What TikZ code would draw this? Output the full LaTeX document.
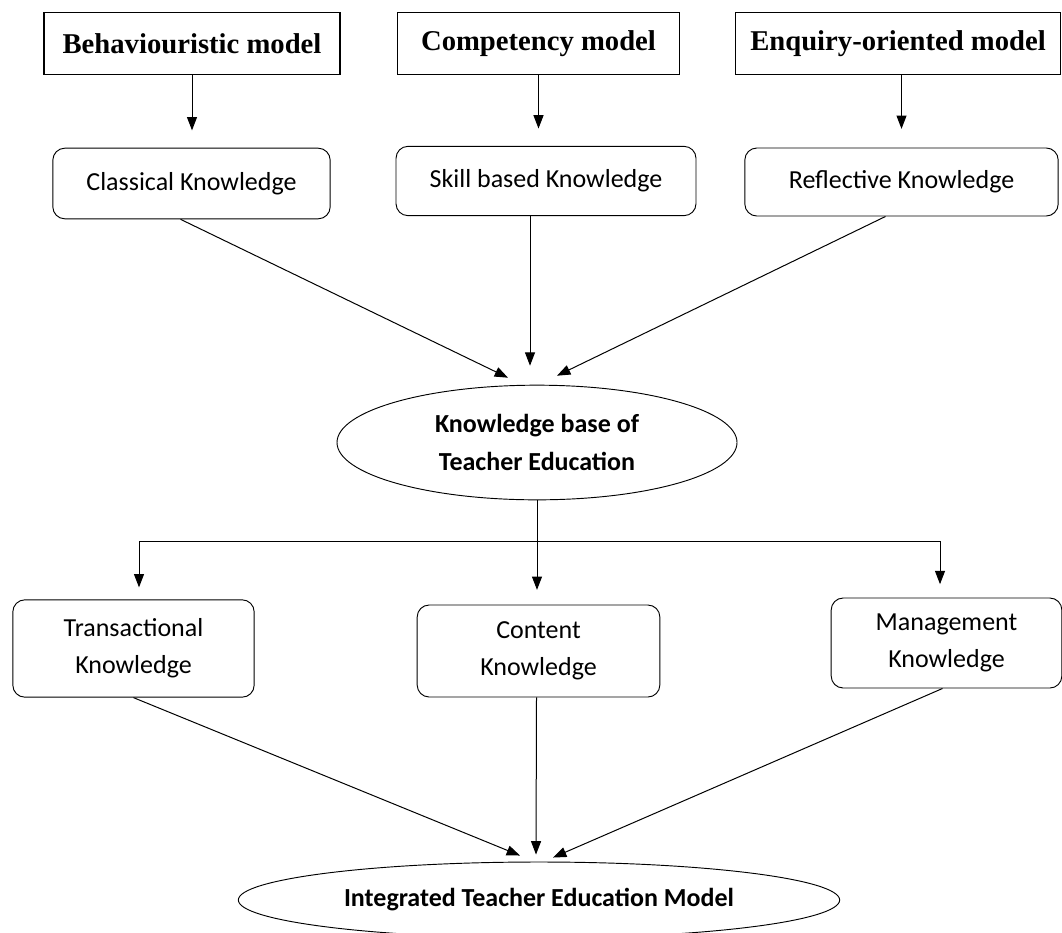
\documentclass[tikz,border=0pt]{standalone}
\usepackage{fontspec}
\setmainfont{Carlito}
\newfontfamily\modelfont{Liberation Serif}
\usetikzlibrary{arrows.meta, positioning, calc, shapes.geometric}

\begin{document}
\begin{tikzpicture}[x=0.75pt, y=-0.75pt,
  modelbox/.style={draw, line width=0.9pt, inner sep=0pt, font=\modelfont\bfseries\fontsize{21.5}{24}\selectfont},
  knowbox/.style={draw, rounded corners=9pt, line width=0.7pt, align=center, inner sep=0pt, font=\fontsize{19.5}{28}\selectfont},
  baseellipse/.style={draw, ellipse, line width=0.7pt, align=center, inner sep=0pt, font=\bfseries\fontsize{19.5}{28}\selectfont},
  arr/.style={-{Triangle[length=10pt, width=7.5pt]}, line width=0.75pt}]

  \useasboundingbox (0,0) rectangle (1062,932);

  % Models
  \node[modelbox, minimum width=222pt, minimum height=47pt] (beh) at (192,43.5) {Behaviouristic model};
  \node[modelbox, minimum width=212pt, minimum height=47pt] (comp) at (538.5,43.5) {Competency model};
  \node[modelbox, minimum width=244pt, minimum height=47pt] (enq) at (898,43.5) {Enquiry-oriented model};

  % Kinds of knowledge
  \node[knowbox, minimum width=208pt, minimum height=53pt] (cls) at (191.5,183.5) {Classical Knowledge};
  \node[knowbox, minimum width=225pt, minimum height=52pt] (skill) at (546,181) {Skill based Knowledge};
  \node[knowbox, minimum width=235pt, minimum height=51pt] (refl) at (901.5,182) {Reflective Knowledge};

  \draw[arr, shorten >=13pt] (beh.south) -- (beh.south |- cls.north);
  \draw[arr, shorten >=13pt] (comp.south) -- (comp.south |- skill.north);
  \draw[arr, shorten >=14pt] (refl.north |- enq.south) -- (refl.north);

  % Knowledge base
  \node[baseellipse, minimum width=300pt, minimum height=86pt] (kb) at (537,442.5) {Knowledge base of\\Teacher Education};

  \draw[arr] ($(cls.south)+(-11,0)$) -- ($(kb.north)+(-29,-7)$);
  \draw[arr] ($(skill.south)+(-16,0)$) -- ($(kb.north)+(-7,-19)$);
  \draw[arr] ($(refl.south)+(-16,0)$) -- ($(kb.north)+(20,-9)$);

  % Branches
  \node[knowbox, minimum width=181pt, minimum height=73pt] (trans) at (133.5,648.5) {Transactional\\Knowledge};
  \node[knowbox, minimum width=182pt, minimum height=69pt] (cont) at (538.5,651) {Content\\Knowledge};
  \node[knowbox, minimum width=173pt, minimum height=67.5pt] (mgmt) at (946.5,643) {Management\\Knowledge};

  \coordinate (barL) at (139,541);
  \coordinate (barR) at (940,541);
  \draw[line width=0.75pt] (barL) -- (barR);
  \draw[arr, shorten >=11pt] (kb.south) -- (kb.south |- cont.north);
  \draw[arr, shorten >=9pt] (barL) -- (barL |- trans.north);
  \draw[arr, shorten >=10pt] (barR) -- (barR |- mgmt.north);

  % Integrated model
  \node[baseellipse, minimum width=451pt, minimum height=57pt] (integ) at (539,900) {Integrated Teacher Education Model};

  \draw[arr] (trans.south) -- ($(integ.north)+(-19,-6)$);
  \draw[arr] ($(cont.south)+(-2,0)$) -- ($(integ.north)+(-3,-7)$);
  \draw[arr] ($(mgmt.south)+(-4,0)$) -- ($(integ.north)+(14,-4)$);

\end{tikzpicture}
\end{document}
